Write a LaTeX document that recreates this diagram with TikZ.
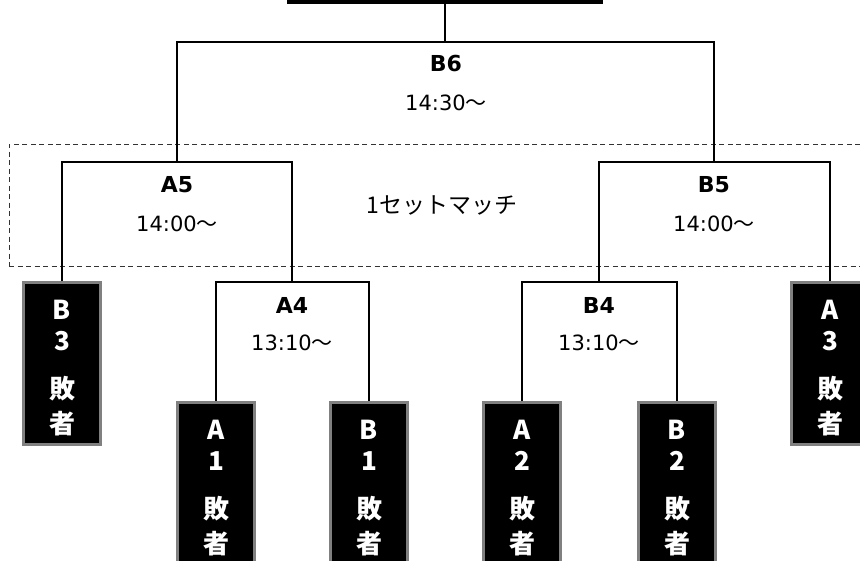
\documentclass[tikz,border=0pt]{standalone}
\usepackage{fontspec}
\setmainfont{DejaVu Sans}
\newfontfamily\jpfont{Noto Sans CJK JP}
\newcommand\kara{{\jpfont ～}}
\usetikzlibrary{positioning}

\begin{document}
\begin{tikzpicture}[x=1pt,y=-1pt,line width=2pt,
    loser text/.style={text=white,align=center,inner sep=0pt,yshift=-5pt,
      font=\fontsize{26}{36}\jpfont\bfseries},
    loser node/.style={rectangle,fill=black,draw=black!50,line width=2.5pt,
      minimum width=77pt,minimum height=162pt,inner sep=0pt,anchor=north,
      label={[loser text]center:{#1}}},
    match node/.style={font=\fontsize{22}{26}\selectfont\bfseries},
    time node/.style={font=\fontsize{21}{26}\selectfont}
  ]
  \clip (0,0) rectangle (860,560);

  % 1 set match area
  \node[draw=black!80,line width=1pt,dash pattern=on 5pt off 3.5pt,
        minimum width=866pt,minimum height=122pt,
        font=\fontsize{23}{26}\jpfont] (oneset) at (442,205) {1セットマッチ};

  % final box
  \node[draw,line width=3.5pt,minimum width=312pt,minimum height=40pt,anchor=south] (final) at (445,3.5) {};

  % bracket corners
  \coordinate (m6) at (445,42);
  \coordinate (m5a) at (177,162);
  \coordinate (m5b) at (714,162);
  \coordinate (m4a) at (292,282);
  \coordinate (m4b) at (599,282);

  % losers
  \node[loser node={B\\[-5pt]3\\[12pt]敗\\[-1pt]者}] (b3) at (62,281) {};
  \node[loser node={A\\[-5pt]3\\[12pt]敗\\[-1pt]者}] (a3) at (830,281) {};
  \node[loser node={A\\[-5pt]1\\[12pt]敗\\[-1pt]者}] (a1) at (216,401) {};
  \node[loser node={B\\[-5pt]1\\[12pt]敗\\[-1pt]者}] (b1) at (369,401) {};
  \node[loser node={A\\[-5pt]2\\[12pt]敗\\[-1pt]者}] (a2) at (522,401) {};
  \node[loser node={B\\[-5pt]2\\[12pt]敗\\[-1pt]者}] (b2) at (677,401) {};

  % brackets
  \draw (final.south) -- (m6);
  \draw (m5a) |- (m6) -| (m5b);
  \draw (b3.north) |- (m5a) -| (m4a);
  \draw (m4b) |- (m5b) -| (a3.north);
  \draw (a1.north) |- (m4a) -| (b1.north);
  \draw (a2.north) |- (m4b) -| (b2.north);

  % match labels
  \node[match node] (b6lbl) at (446,63) {B6};
  \node[time node] (b6time) at (446,103) {14:30\kara};
  \node[match node] (a5lbl) at (177,185) {A5};
  \node[time node] (a5time) at (177,224) {14:00\kara};
  \node[match node] (b5lbl) at (714,185) {B5};
  \node[time node] (b5time) at (714,224) {14:00\kara};
  \node[match node] (a4lbl) at (292,305) {A4};
  \node[time node] (a4time) at (292,343) {13:10\kara};
  \node[match node] (b4lbl) at (599,305) {B4};
  \node[time node] (b4time) at (599,343) {13:10\kara};
\end{tikzpicture}
\end{document}
